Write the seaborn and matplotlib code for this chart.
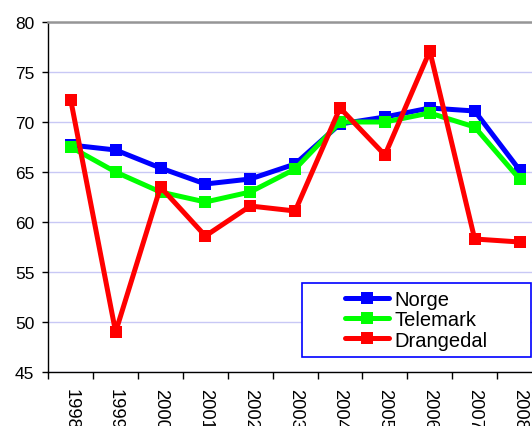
import matplotlib
matplotlib.use("Agg")
import matplotlib.pyplot as plt
from matplotlib.lines import Line2D
from matplotlib.patches import Rectangle
import seaborn as sns
import pandas as pd
import numpy as np

years = ["1998", "1999", "2000", "2001", "2002", "2003", "2004", "2005", "2006", "2007", "2008"]
norge = [67.7, 67.2, 65.4, 63.8, 64.3, 65.8, 69.8, 70.5, 71.4, 71.1, 65.2]
telemark = [67.5, 65.0, 63.0, 62.0, 63.0, 65.3, 70.0, 70.0, 70.9, 69.5, 64.3]
drangedal = [72.2, 49.0, 63.5, 58.6, 61.6, 61.1, 71.4, 66.7, 77.1, 58.3, 58.0]
series_names = ["Norge", "Telemark", "Drangedal"]
colors = ["#0000FF", "#00FF00", "#FF0000"]

sns.set_theme(style="white")
plt.rcParams["font.family"] = ["Liberation Sans", "DejaVu Sans"]
plt.rcParams["text.color"] = "black"
plt.rcParams["xtick.color"] = "black"
plt.rcParams["ytick.color"] = "black"
plt.rcParams["axes.labelcolor"] = "black"

rows = []
for name, vals in zip(series_names, [norge, telemark, drangedal]):
    for i, v in enumerate(vals):
        rows.append({"x": i, "value": v, "series": name})
df = pd.DataFrame(rows)

fig = plt.figure(figsize=(5.32, 4.27), dpi=100)
W, H = 532, 427
ax_left, ax_right = 48.3, 542.0
ax_top, ax_bottom = 23.0, 373.0
ax = fig.add_axes([ax_left / W, 1 - ax_bottom / H, (ax_right - ax_left) / W, (ax_bottom - ax_top) / H])

sns.lineplot(data=df, x="x", y="value", hue="series", hue_order=series_names,
             palette=colors, marker="s", markersize=8, markeredgewidth=0,
             linewidth=3.6, ax=ax, legend=False, zorder=3)

ax.set_xlim(-0.5, len(years) - 0.5)
ax.set_ylim(45, 80)
ax.set_yticks(np.arange(45, 81, 5))
ax.set_xticks(np.arange(-0.5, len(years), 1.0))
ax.set_xticklabels([])
ax.set_xticks(np.arange(len(years)), minor=True)
ax.set_xticklabels(years, minor=True, rotation=-90, va="top", ha="center", fontsize=13.2,
                   color="black")
ax.tick_params(axis="x", which="major", length=5, width=1, color="black", direction="out", bottom=True)
ax.tick_params(axis="x", which="minor", length=0, pad=11.5)
ax.tick_params(axis="y", length=4, width=1, color="black", labelcolor="black",
               direction="out", left=True, pad=6, labelsize=12.5)
ax.set_xlabel("")
ax.set_ylabel("")

ax.yaxis.grid(True, color="#c8c8f5", linewidth=1)
ax.xaxis.grid(False)
ax.set_axisbelow(True)

for s in ["left", "bottom"]:
    ax.spines[s].set_visible(True)
    ax.spines[s].set_color("black")
    ax.spines[s].set_linewidth(1)
ax.spines["right"].set_visible(False)
ax.spines["top"].set_visible(True)
ax.spines["top"].set_color("#969696")
ax.spines["top"].set_linewidth(1.8)

# legend box
rect = Rectangle((302 / W, 1 - 358 / H), 229 / W, 74 / H, transform=fig.transFigure,
                 facecolor="white", edgecolor="#0000FF", linewidth=1.2, zorder=5)
fig.patches.append(rect)
handles = [Line2D([], [], color=c, linewidth=3.6, marker="s", markersize=8, markeredgewidth=0)
           for c in colors]
leg = fig.legend(handles, series_names, loc="center", bbox_to_anchor=(416.5 / W, 1 - 321 / H),
                 frameon=False, fontsize=14.5, handlelength=2.15, handletextpad=0.3,
                 labelspacing=0.05, borderpad=0, labelcolor="black")
leg.set_zorder(6)

fig.savefig("out.png", dpi=100)
